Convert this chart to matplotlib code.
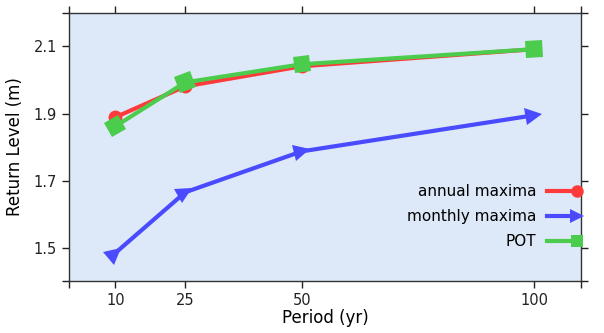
import numpy as np
import matplotlib
matplotlib.use("Agg")
import matplotlib.pyplot as plt
from matplotlib.lines import Line2D
from matplotlib.markers import MarkerStyle
from matplotlib.transforms import Affine2D
from matplotlib.legend_handler import HandlerLine2D


# return period (years) and estimated return levels (m)
period = [10, 25, 50, 100]
annual_maxima = [1.889, 1.981, 2.041, 2.092]
monthly_maxima = [1.484, 1.665, 1.787, 1.895]
pot = [1.862, 1.993, 2.047, 2.092]

x_ticks = [0, 10, 25, 50, 100, 110]
x_ticklabels = ["", "10", "25", "50", "100", ""]
y_ticks = [1.4, 1.5, 1.7, 1.9, 2.1, 2.2]
y_ticklabels = ["", "1.5", "1.7", "1.9", "2.1", ""]

RED = "#ff3a3a"
BLUE = "#4a4aff"
GREEN = "#4ccc4c"
BG = "#dde9f8"


class HandlerEndMarker(HandlerLine2D):
    """legend line with the marker sitting at the right end"""
    def create_artists(self, legend, orig_handle, xdescent, ydescent,
                       width, height, fontsize, trans):
        y = (height - ydescent) / 2
        line = Line2D([-xdescent, -xdescent + width], [y, y])
        self.update_prop(line, orig_handle, legend)
        line.set_markevery([1])
        line.set_transform(trans)
        return [line]


def marker_angles(ax, xs, ys):
    # direction of the curve at each point, in screen space
    pts = ax.transData.transform(np.column_stack([xs, ys]))
    seg = np.degrees(np.arctan2(np.diff(pts[:, 1]), np.diff(pts[:, 0])))
    angles = [seg[0]]
    for i in range(1, len(seg)):
        angles.append((seg[i - 1] + seg[i]) / 2)
    angles.append(seg[-1])
    return angles


def draw_series(ax, xs, ys, color, marker, ms, rotate):
    ax.plot(xs, ys, color=color, lw=3, solid_capstyle="butt", zorder=3)
    angles = marker_angles(ax, xs, ys) if rotate else [0] * len(xs)
    for x, y, a in zip(xs, ys, angles):
        m = MarkerStyle(marker, transform=Affine2D().rotate_deg(a))
        ax.plot([x], [y], linestyle="none", marker=m, ms=ms,
                color=color, markeredgewidth=0, zorder=3)


fig = plt.figure(figsize=(6.04, 3.33), dpi=100)
ax = fig.add_axes([0.114, 0.156, 0.848, 0.805])
ax.set_facecolor(BG)
ax.set_xlim(0, 110)
ax.set_ylim(1.4, 2.2)

draw_series(ax, period, annual_maxima, RED, "o", 10, False)
draw_series(ax, period, monthly_maxima, BLUE, ">", 12, True)
draw_series(ax, period, pot, GREEN, "s", 12, True)

ax.set_xticks(x_ticks)
ax.set_xticklabels(x_ticklabels)
ax.set_yticks(y_ticks)
ax.set_yticklabels(y_ticklabels)
ax.tick_params(direction="out", length=5, width=1, labelsize=10.5,
               top=True, right=True, colors="#222222")
for s in ax.spines.values():
    s.set_color("#333333")
    s.set_linewidth(1)

ax.set_xlabel("Period (yr)", fontsize=12, labelpad=1)
ax.set_ylabel("Return Level (m)", fontsize=12, labelpad=7)

handles = [
    Line2D([], [], color=RED, lw=3, marker="o", ms=9, markeredgewidth=0),
    Line2D([], [], color=BLUE, lw=3, marker=">", ms=10, markeredgewidth=0),
    Line2D([], [], color=GREEN, lw=3, marker="s", ms=9, markeredgewidth=0),
]
ax.legend(handles, ["annual maxima", "monthly maxima", "POT"],
          loc="lower right", bbox_to_anchor=(1.018, 0.067),
          frameon=False, markerfirst=False, fontsize=11,
          handlelength=1.9, handletextpad=0.72, labelspacing=0.67,
          handler_map={Line2D: HandlerEndMarker()})

fig.savefig("out.png", dpi=100)
